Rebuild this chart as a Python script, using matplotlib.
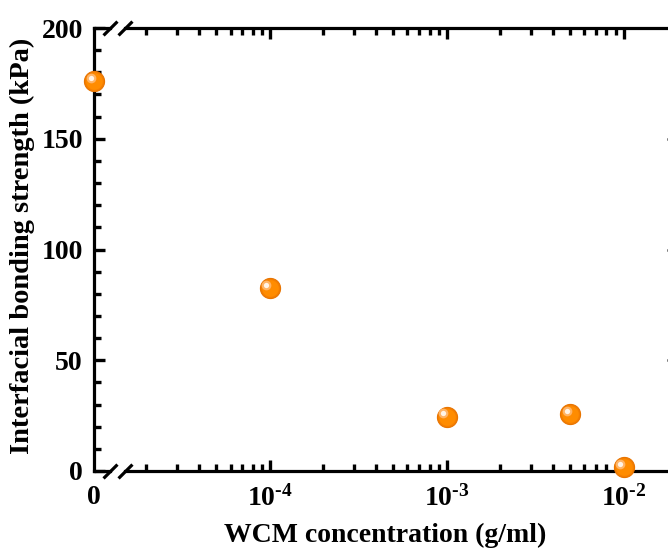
import matplotlib
matplotlib.use('Agg')
from matplotlib import pyplot as plt
from matplotlib import transforms
from matplotlib.ticker import LogLocator, MultipleLocator, NullFormatter, FixedLocator

plt.rcParams['font.family'] = 'Liberation Serif'
plt.rcParams['font.weight'] = 'bold'
plt.rcParams['mathtext.fontset'] = 'custom'
plt.rcParams['mathtext.rm'] = 'Liberation Serif:bold'
plt.rcParams['mathtext.it'] = 'Liberation Serif:bold'
plt.rcParams['mathtext.bf'] = 'Liberation Serif:bold'

# data
zero_conc = [0.0]
zero_strength = [176.0]
conc = [1e-4, 1e-3, 5e-3, 1e-2]
strength = [82.6, 24.4, 25.7, 1.8]

log_ticks = [1e-4, 1e-3, 1e-2]
log_labels = [r'$10^{\text{-}4}$', r'$10^{\text{-}3}$', r'$10^{\text{-}2}$']

W, H = 668, 549
fig = plt.figure(figsize=(W / 100, H / 100), dpi=100)

def px(l, r, t=28, b=471):
	return [l / W, 1 - b / H, (r - l) / W, (b - t) / H]

ax0 = fig.add_axes(px(94, 110))
ax1 = fig.add_axes(px(125, 678))

orange = '#ff8c00'
lw = 2.3

def balls(ax, xs, ys):
	ax.plot(xs, ys, 'o', ms=14.5, color='#f57f00', mec='#e87400', mew=0.8, clip_on=False, zorder=5)
	ax.plot(xs, ys, 'o', ms=12, color=orange, mec='none', clip_on=False, zorder=5)
	off = transforms.offset_copy(ax.transData, fig=fig, x=-2.5, y=2.5, units='points')
	ax.plot(xs, ys, 'o', ms=7, color='#ffb466', mec='none', clip_on=False, zorder=6, transform=off)
	ax.plot(xs, ys, 'o', ms=3.8, color='#fff4e8', mec='none', clip_on=False, zorder=7, transform=off)

for ax in (ax0, ax1):
	ax.set_ylim(0, 200)
	for s in ax.spines.values():
		s.set_linewidth(lw)
	ax.tick_params(which='major', direction='in', length=8, width=2.4, labelsize=20, pad=10)
	ax.tick_params(which='minor', direction='in', length=5, width=2.4)

# zero segment
ax0.set_xlim(0, 1)
ax0.spines['right'].set_visible(False)
ax0.xaxis.set_major_locator(FixedLocator([0]))
ax0.set_xticklabels(['0'])
ax0.tick_params(axis='x', which='major', length=0)
ax0.yaxis.set_major_locator(MultipleLocator(50))
ax0.yaxis.set_minor_locator(MultipleLocator(10))
ax0.tick_params(axis='y', pad=8)
balls(ax0, zero_conc, zero_strength)

# log segment
ax1.set_xscale('log')
ax1.set_xlim(1.52e-5, 2.03e-2)
ax1.spines['left'].set_visible(False)
ax1.xaxis.set_major_locator(FixedLocator(log_ticks))
ax1.set_xticklabels(log_labels)
ax1.xaxis.set_minor_locator(LogLocator(base=10, subs=range(2, 10)))
ax1.xaxis.set_minor_formatter(NullFormatter())
ax1.tick_params(axis='x', which='both', top=True)
ax1.yaxis.set_major_locator(MultipleLocator(50))
ax1.yaxis.set_minor_locator(MultipleLocator(10))
ax1.tick_params(axis='y', which='both', left=False, right=True, labelleft=False)
ax1.tick_params(axis='y', which='major', width=1.8)
balls(ax1, conc, strength)

# break marks
mk = dict(marker=[(-1, -1), (1, 1)], markersize=10, linestyle='none',
	color='k', mec='k', mew=lw, clip_on=False)
ax0.plot([1, 1], [0, 1], transform=ax0.transAxes, **mk)
ax1.plot([0, 0], [0, 1], transform=ax1.transAxes, **mk)

fig.text(385 / W, 1 - 535 / H, 'WCM concentration (g/ml)', ha='center', va='center', fontsize=20)
fig.text(22 / W, 1 - 246 / H, 'Interfacial bonding strength (kPa)', ha='center', va='center',
	rotation=90, fontsize=20.5)

fig.savefig('out.png', dpi=100)
